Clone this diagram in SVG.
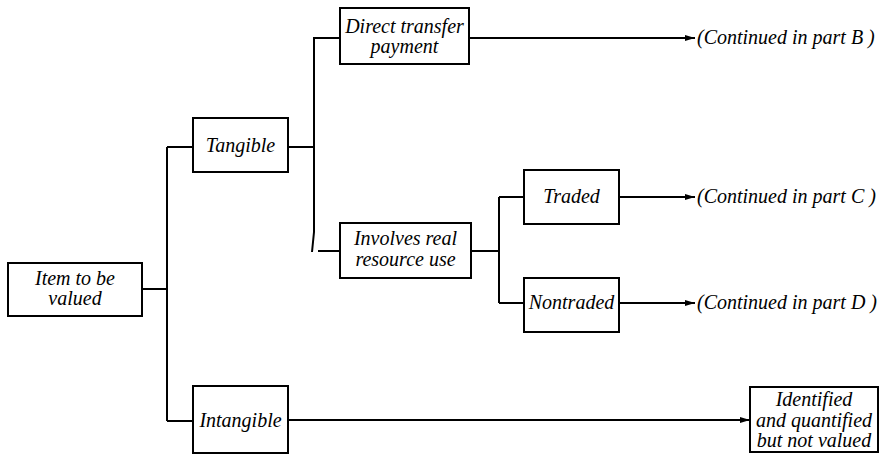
<svg xmlns="http://www.w3.org/2000/svg" width="880" height="455" viewBox="0 0 880 455">
<style>
.box{fill:#fff;stroke:#000;stroke-width:2}
.ln{fill:none;stroke:#000;stroke-width:2}
text{font-family:"Liberation Serif","Times New Roman",serif;font-style:italic;font-size:20px;fill:#000;text-anchor:middle}
.lt{text-anchor:start}
</style>
<defs>
<marker id="ah" markerWidth="10" markerHeight="6" refX="10" refY="3" orient="auto" markerUnits="userSpaceOnUse">
<path d="M0,0 L10,3 L0,6 Z" fill="#000"/>
</marker>
</defs>
<rect width="880" height="455" fill="#fff"/>
<g id="connectors">
<path class="ln" d="M142,289 H167 M167,147 V421"/>
<path class="ln" d="M167,147 H193 M167,421 H193"/>
<path class="ln" d="M288,147 H314 M340,38 H314 V232 L312,252 M318,251 H340"/>
<path class="ln" d="M471,251 H499 M499,197 V303 M499,197 H524 M499,303 H524"/>
<path class="ln" d="M469,38 H695" marker-end="url(#ah)"/>
<path class="ln" d="M619,197 H695" marker-end="url(#ah)"/>
<path class="ln" d="M619,303 H695" marker-end="url(#ah)"/>
<path class="ln" d="M288,420 H750" marker-end="url(#ah)"/>
</g>
<g id="item">
<rect class="box" x="8" y="263" width="134" height="53"/>
<text x="75" y="285">Item to be</text>
<text x="75" y="305">valued</text>
</g>
<g id="tangible">
<rect class="box" x="193" y="118" width="95" height="54"/>
<text x="240.5" y="152">Tangible</text>
</g>
<g id="intangible">
<rect class="box" x="193" y="386" width="95" height="67"/>
<text x="240.5" y="427">Intangible</text>
</g>
<g id="direct">
<rect class="box" x="340" y="8" width="129" height="56"/>
<text x="404.5" y="33">Direct transfer</text>
<text x="404.5" y="53">payment</text>
</g>
<g id="involves">
<rect class="box" x="340" y="223" width="131" height="55"/>
<text x="405.5" y="245">Involves real</text>
<text x="405.5" y="266">resource use</text>
</g>
<g id="traded">
<rect class="box" x="524" y="170" width="95" height="54"/>
<text x="571.5" y="203">Traded</text>
</g>
<g id="nontraded">
<rect class="box" x="524" y="278" width="95" height="54"/>
<text x="571.5" y="309">Nontraded</text>
</g>
<g id="identified">
<rect class="box" x="750" y="387" width="128" height="65"/>
<text x="814" y="406">Identified</text>
<text x="814" y="427">and quantified</text>
<text x="814" y="447">but not valued</text>
</g>
<g id="labels">
<text class="lt" x="697" y="44">(Continued in part B )</text>
<text class="lt" x="697" y="203">(Continued in part C )</text>
<text class="lt" x="697" y="309">(Continued in part D )</text>
</g>
</svg>
